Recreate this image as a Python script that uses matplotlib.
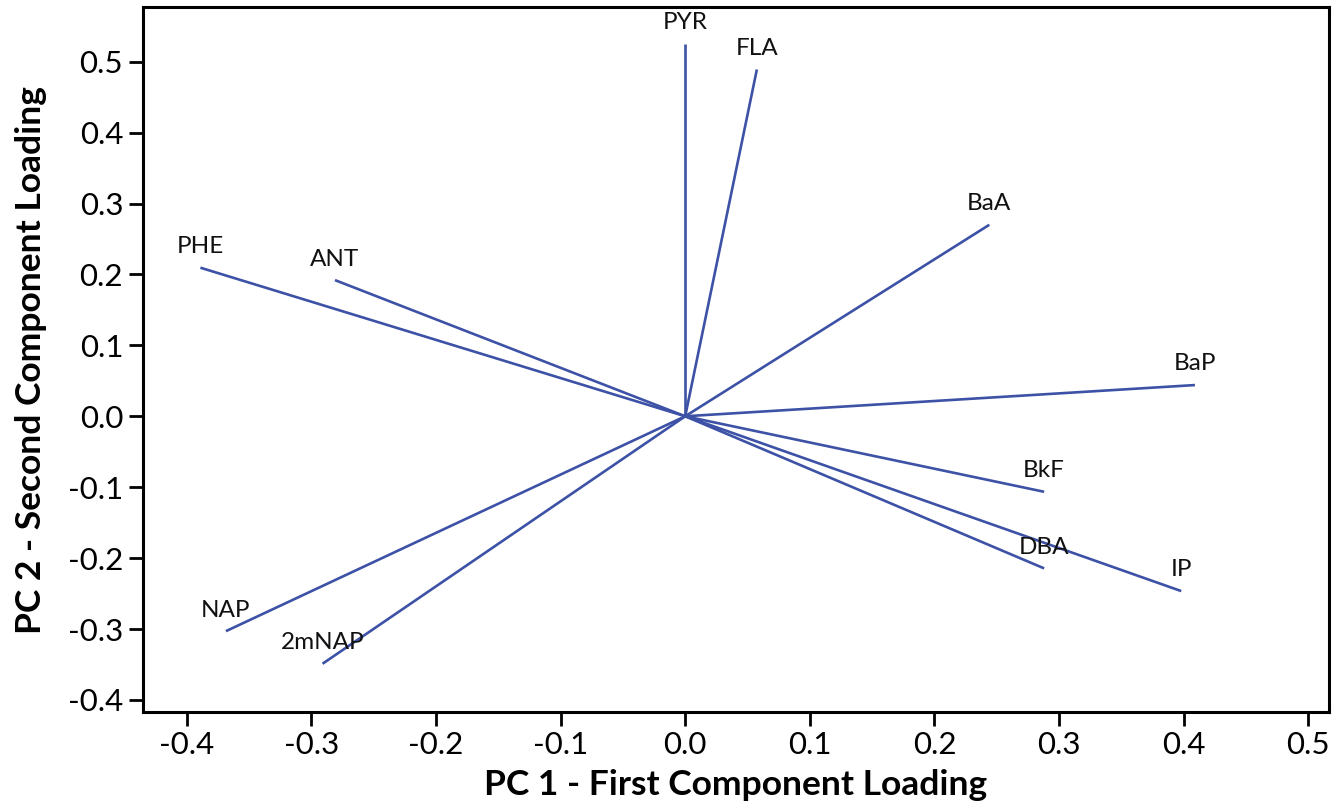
import matplotlib
matplotlib.use("Agg")
import matplotlib.pyplot as plt

compounds = ["PYR", "FLA", "BaA", "BaP", "BkF", "DBA", "IP", "NAP", "2mNAP", "PHE", "ANT"]
pc1 = [0.000, 0.0575, 0.244, 0.409, 0.288, 0.288, 0.398, -0.3685, -0.291, -0.389, -0.281]
pc2 = [0.525, 0.489, 0.270, 0.044, -0.1065, -0.2145, -0.2465, -0.303, -0.349, 0.2095, 0.192]

xticks = [-0.4, -0.3, -0.2, -0.1, 0.0, 0.1, 0.2, 0.3, 0.4, 0.5]
yticks = [-0.4, -0.3, -0.2, -0.1, 0.0, 0.1, 0.2, 0.3, 0.4, 0.5]

plt.rcParams['font.family'] = ['Lato', 'DejaVu Sans']

fig = plt.figure(figsize=(13.36, 8.10), dpi=100)
ax = fig.add_axes([0.1068, 0.121, 0.9948 - 0.1068, 0.991 - 0.121])

line_color = '#3d52a6'
for name, x, y in zip(compounds, pc1, pc2):
    ax.plot([0, x], [0, y], color=line_color, lw=1.9, solid_capstyle='butt')
    ax.annotate(name, (x, y), xytext=(0, 10.5), textcoords='offset points',
                ha='center', va='baseline', fontsize=17.5, color='#111111')

ax.set_xlim(-0.4353, 0.5166)
ax.set_ylim(-0.417, 0.5767)
ax.set_xticks(xticks)
ax.set_yticks(yticks)
ax.set_xticklabels([f"{t:.1f}" for t in xticks])
ax.set_yticklabels([f"{t:.1f}" for t in yticks])
ax.tick_params(direction='out', length=10, width=2, labelsize=22.5, pad=4, colors='black')

for s in ax.spines.values():
    s.set_linewidth(2.2)

ax.set_xlabel("PC 1 - First Component Loading", fontsize=25.5, fontweight='bold', labelpad=7)
ax.set_ylabel("PC 2 - Second Component Loading", fontsize=25.5, fontweight='bold', labelpad=15)

fig.savefig("out.png", dpi=100)
